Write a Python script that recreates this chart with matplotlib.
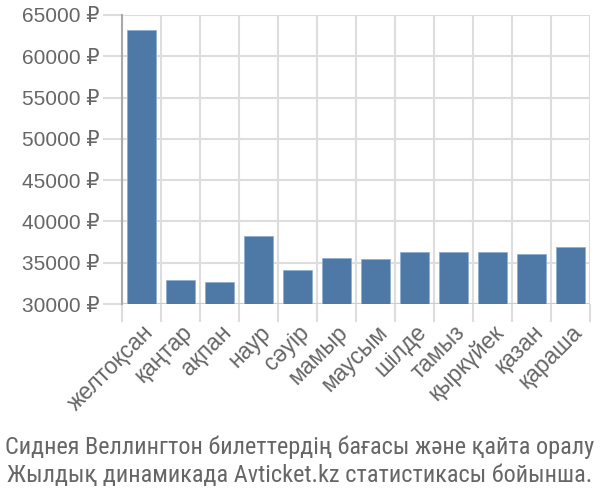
import matplotlib
matplotlib.use("Agg")
import matplotlib.pyplot as plt
import numpy as np

months = ["желтоқсан", "қаңтар", "ақпан", "наур", "сәуір", "мамыр", "маусым",
          "шілде", "тамыз", "қыркүйек", "қазан", "қараша"]
prices = [63200, 32870, 32620, 38230, 34130, 35600, 35480, 36250, 36250, 36250, 36010, 36860]
yticks = [30000, 35000, 40000, 45000, 50000, 55000, 60000, 65000]
caption = ["Сиднея Веллингтон билеттердің бағасы және қайта оралу",
           "Жылдық динамикада Avticket.kz статистикасы бойынша."]

main_fam = ['Liberation Sans', 'DejaVu Sans']
cap_fam = ['Roboto Condensed', 'DejaVu Sans']
plt.rcParams['font.family'] = main_fam
text_color = "#666666"
grid_color = "#dddddd"

fig = plt.figure(figsize=(6, 5), dpi=100)
ax = fig.add_axes([122/600, 1-304/500, 468/600, 289/500])

x = np.arange(len(months))
ax.bar(x, [p - 30000 for p in prices], bottom=30000, width=0.72,
       color="#4e79a7", edgecolor="#8fb0d0", linewidth=0.6, zorder=3)

ax.set_xlim(-0.5, len(months) - 0.5)
ax.set_ylim(30000, 65000)
ax.set_yticks(yticks)
ax.set_yticklabels([f"{v} ₽" for v in yticks], fontsize=15, color=text_color,
                   family=main_fam)
ax.tick_params(axis='y', length=14, color=grid_color, width=1.5, pad=2)

ax.set_xticks(x)
ax.set_xticklabels(months, rotation=45, ha='right', rotation_mode='anchor',
                   fontsize=16.5, color=text_color, family=main_fam)
ax.set_xticks(np.arange(len(months) + 1) - 0.5, minor=True)
ax.tick_params(axis='x', which='major', length=0, pad=12)
ax.tick_params(axis='x', which='minor', length=13, color=grid_color, width=1.5)

ax.grid(axis='y', color=grid_color, linewidth=1.5, zorder=0)
ax.grid(axis='x', which='minor', color=grid_color, linewidth=1.5, zorder=0)
for s in ['top', 'right', 'bottom']:
    ax.spines[s].set_visible(False)
ax.spines['left'].set_color("#aaaaaa")
ax.spines['left'].set_linewidth(1.5)
ax.axhline(30000, color="#cccccc", linewidth=1.5, zorder=2)

fig.text(0.5, 1-447/500, caption[0], ha='center', va='center', fontsize=17.5,
         color=text_color, family=cap_fam)
fig.text(0.5, 1-475/500, caption[1], ha='center', va='center', fontsize=17.5,
         color=text_color, family=cap_fam)

fig.savefig("out.png", dpi=100)
